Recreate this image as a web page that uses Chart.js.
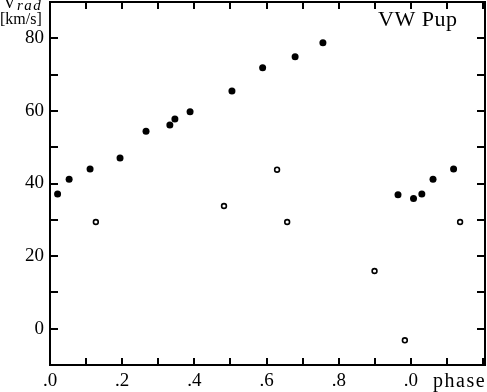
<!DOCTYPE html>
<html>
<head>
<meta charset="utf-8">
<script src="https://cdn.jsdelivr.net/npm/chart.js@4.4.1/dist/chart.umd.min.js"></script>
<style>
  html, body { margin: 0; padding: 0; background: #fff; }
  #wrap { width: 487px; height: 392px; }
</style>
</head>
<body>
<div id="wrap"><canvas id="chartOne" width="487" height="392"></canvas></div>
<script>
// radial velocity curve of VW Pup
const phaseFilled = [0.021, 0.053, 0.111, 0.194, 0.266, 0.332, 0.346, 0.388, 0.504, 0.589, 0.679, 0.756, 0.964, 1.007, 1.030, 1.061, 1.118];
const vradFilled  = [37.1, 41.2, 44.0, 47.0, 54.4, 56.1, 57.8, 59.8, 65.5, 71.9, 74.9, 78.8, 36.9, 35.9, 37.1, 41.2, 44.0];

const phaseOpen = [0.127, 0.482, 0.629, 0.657, 0.899, 0.983, 1.136];
const vradOpen  = [29.4, 33.8, 43.8, 29.4, 15.9, -3.2, 29.4];

const xLabelValues = [0, 0.2, 0.4, 0.6, 0.8, 1.0];
const xLabelText   = [".0", ".2", ".4", ".6", ".8", ".0"];
const yLabelValues = [0, 20, 40, 60, 80];

const serif = "'Liberation Serif', 'Times New Roman', serif";

function toPoints(xs, ys) {
  return xs.map((x, i) => ({ x: x, y: ys[i] }));
}

function near(a, b) { return Math.abs(a - b) < 1e-6; }

// box, inward ticks on all four sides, and the extra texts
const framePlugin = {
  id: "frame",
  afterDraw(chart) {
    const ctx = chart.ctx;
    const a = chart.chartArea;
    const xs = chart.scales.x, ys = chart.scales.y;
    ctx.save();
    ctx.strokeStyle = "#000";
    ctx.lineWidth = 2;
    ctx.strokeRect(a.left, a.top, a.right - a.left, a.bottom - a.top);

    ctx.beginPath();
    xs.ticks.forEach(t => {
      const px = Math.round(xs.getPixelForValue(t.value));
      if (px <= a.left + 1 || px >= a.right - 1) return;
      ctx.moveTo(px, a.bottom); ctx.lineTo(px, a.bottom - 7);
      ctx.moveTo(px, a.top); ctx.lineTo(px, a.top + 7);
    });
    ys.ticks.forEach(t => {
      const py = Math.round(ys.getPixelForValue(t.value));
      if (py <= a.top + 1 || py >= a.bottom - 1) return;
      ctx.moveTo(a.left, py); ctx.lineTo(a.left + 8, py);
      ctx.moveTo(a.right, py); ctx.lineTo(a.right - 8, py);
    });
    ctx.stroke();

    ctx.fillStyle = "#000";
    ctx.textBaseline = "alphabetic";
    ctx.textAlign = "left";
    ctx.font = "22px " + serif;
    ctx.letterSpacing = "0.5px";
    ctx.fillText("VW Pup", 378, 26);

    ctx.font = "20px " + serif;
    ctx.letterSpacing = "1.5px";
    ctx.fillText("phase", 433, 387);

    ctx.font = "18px " + serif;
    ctx.letterSpacing = "0px";
    ctx.fillText("v", 5, 8);
    ctx.font = "italic 15px " + serif;
    ctx.letterSpacing = "1.5px";
    ctx.fillText("rad", 17, 10);
    ctx.font = "16px " + serif;
    ctx.letterSpacing = "0px";
    ctx.fillText("[km/s]", 0, 24);
    ctx.restore();
  }
};

function BuildChart() {
  const ctx = document.getElementById("chartOne").getContext("2d");
  return new Chart(ctx, {
    type: "scatter",
    data: {
      datasets: [
        {
          label: "filled",
          data: toPoints(phaseFilled, vradFilled),
          pointRadius: 3.5,
          pointBackgroundColor: "#000",
          pointBorderWidth: 0
        },
        {
          label: "open",
          data: toPoints(phaseOpen, vradOpen),
          pointRadius: 2.4,
          pointBackgroundColor: "#fff",
          pointBorderColor: "#000",
          pointBorderWidth: 1.6
        }
      ]
    },
    options: {
      responsive: false,
      animation: false,
      layout: { autoPadding: false, padding: { top: 2, right: 2, left: 0, bottom: 0 } },
      plugins: { legend: { display: false }, tooltip: { enabled: false } },
      scales: {
        x: {
          type: "linear",
          min: 0,
          max: 1.205,
          grid: { display: false, drawTicks: false },
          border: { display: false },
          ticks: {
            stepSize: 0.1,
            includeBounds: false,
            autoSkip: false,
            maxRotation: 0,
            padding: 5,
            color: "#000",
            font: { family: serif, size: 19 },
            callback: v => {
              const i = xLabelValues.findIndex(x => near(x, v));
              return i >= 0 ? xLabelText[i] : "";
            }
          },
          afterFit: s => {
            s.height = 27;
            s.paddingLeft = 0; s.paddingRight = 0;
          }
        },
        y: {
          type: "linear",
          min: -10,
          max: 90,
          grid: { display: false, drawTicks: false },
          border: { display: false },
          ticks: {
            stepSize: 10,
            autoSkip: false,
            padding: 6,
            color: "#000",
            font: { family: serif, size: 19 },
            callback: v => yLabelValues.some(y => near(y, v)) ? String(v) : ""
          },
          afterFit: s => {
            s.width = 50;
            s.paddingTop = 0; s.paddingBottom = 0;
          }
        }
      }
    },
    plugins: [framePlugin]
  });
}

BuildChart();
</script>
</body>
</html>
